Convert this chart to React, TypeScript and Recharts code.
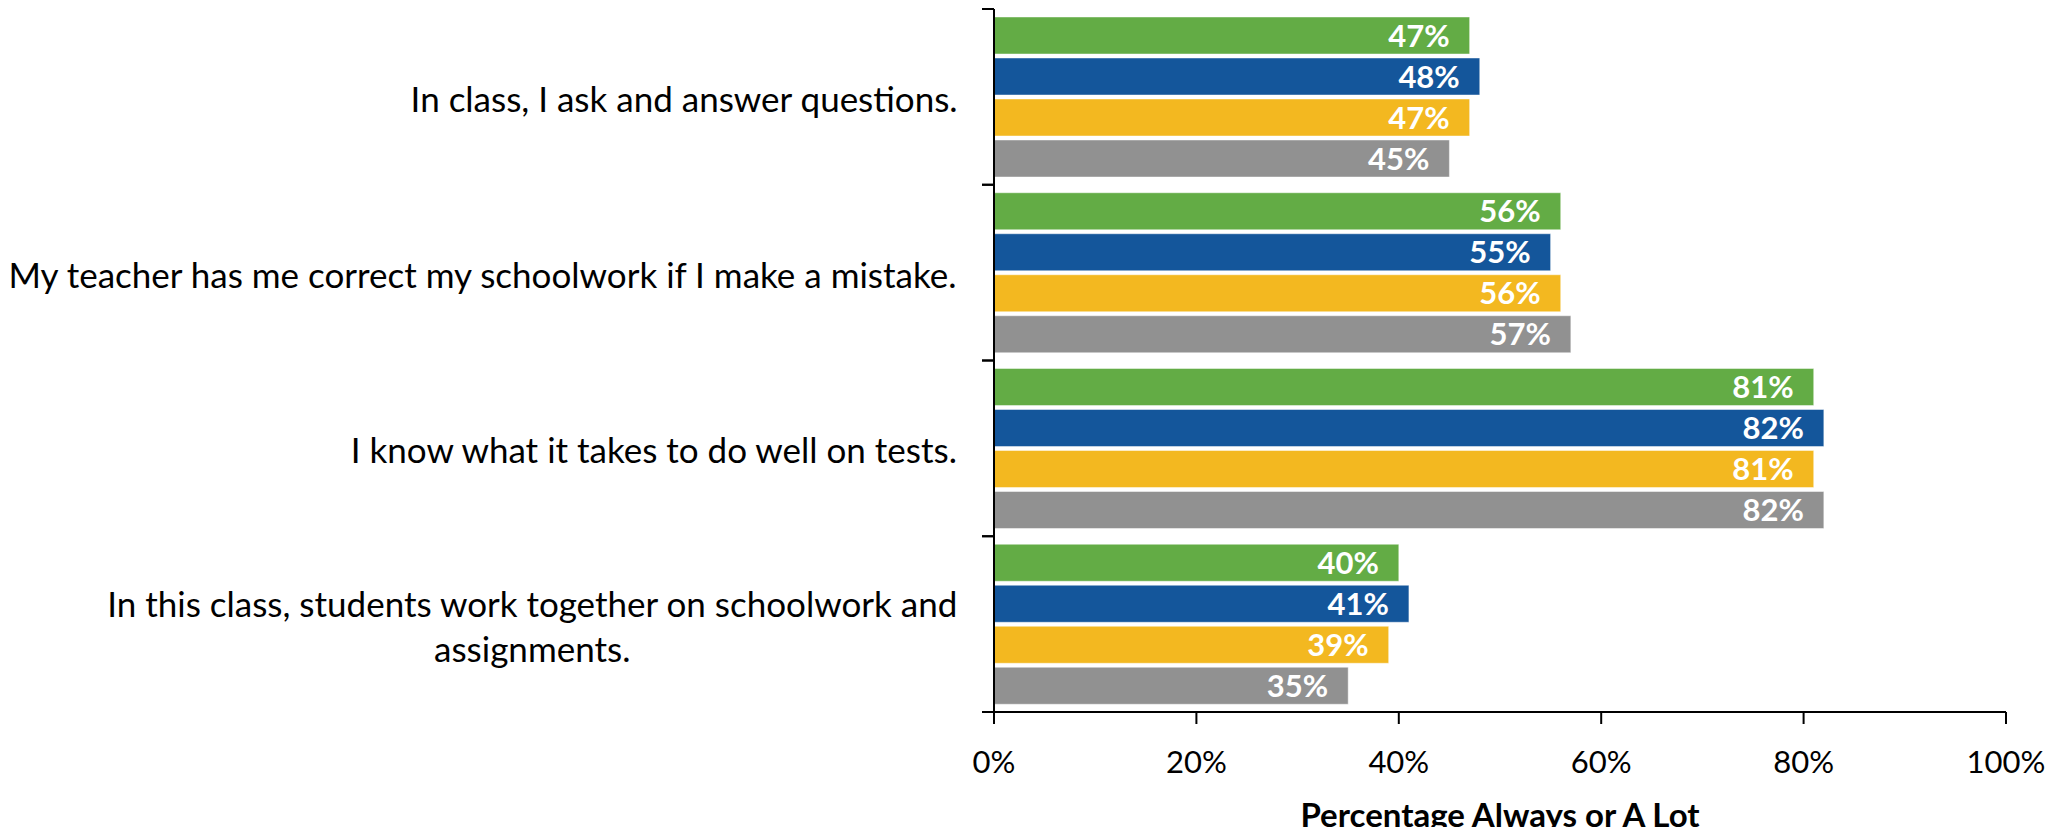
import React from "react";
import { BarChart, Bar, XAxis, YAxis, LabelList } from "recharts";

const statements = [
  "In class, I ask and answer questions.",
  "My teacher has me correct my schoolwork if I make a mistake.",
  "I know what it takes to do well on tests.",
  "In this class, students work together on schoolwork and\nassignments.",
];
const groupA = [47, 56, 81, 40];
const groupB = [48, 55, 82, 41];
const groupC = [47, 56, 81, 39];
const groupD = [45, 57, 82, 35];
const xTicks = [0, 20, 40, 60, 80, 100];
const axisTitle = "Percentage Always or A Lot";

const data = statements.map((statement, i) => ({
  statement,
  groupA: groupA[i],
  groupB: groupB[i],
  groupC: groupC[i],
  groupD: groupD[i],
}));

const W = 2050;
const H = 819;
const TOP = 1;
const X_AXIS_H = 115;
const BAND = (H - TOP - X_AXIS_H) / statements.length;
const FONT = "Lato";
const TICK_SIZE = 35;

let ctx: CanvasRenderingContext2D | null = null;
const measure = (s: string, font: string) => {
  if (!ctx) ctx = document.createElement("canvas").getContext("2d");
  if (!ctx) return s.length * 15;
  ctx.font = font;
  return ctx.measureText(s).width;
};

// category label, right-aligned block with lines centred on each other,
// plus the small ticks at the band edges
const StatementTick = (props: any) => {
  const { x, y, payload } = props;
  const lines = String(payload.value).split("\n");
  const widths = lines.map((l) => measure(l, `${TICK_SIZE}px ${FONT}`));
  const blockW = Math.max(...widths);
  const cx = x - 36 - blockW / 2;
  const lineH = 45;
  const first = y + 15 - ((lines.length - 1) * lineH) / 2;
  return (
    <g>
      <line x1={x - 12} x2={x} y1={y - BAND / 2} y2={y - BAND / 2} stroke="#000" strokeWidth={2} />
      <line x1={x - 12} x2={x} y1={y + BAND / 2} y2={y + BAND / 2} stroke="#000" strokeWidth={2} />
      {lines.map((l, i) => (
        <text
          key={i}
          x={cx}
          y={first + i * lineH}
          textAnchor="middle"
          fontFamily={FONT}
          fontSize={TICK_SIZE}
          fill="#000"
        >
          {l}
        </text>
      ))}
    </g>
  );
};

const PercentTick = (props: any) => {
  const { x, y, payload } = props;
  return (
    <text x={x} y={y + 49} textAnchor="middle" fontFamily={FONT} fontSize={31} fill="#000">
      {payload.value}%
    </text>
  );
};

const renderTitle = (props: any) => {
  const { viewBox } = props;
  return (
    <text
      x={viewBox.x + viewBox.width / 2}
      y={viewBox.y + 115}
      textAnchor="middle"
      fontFamily={FONT}
      fontSize={33}
      fontWeight="bold"
      fill="#000"
    >
      {axisTitle}
    </text>
  );
};

const renderValue = (props: any) => {
  const { x, y, width, height, value } = props;
  return (
    <text
      x={x + width - 20}
      y={y + height / 2 + 11}
      textAnchor="end"
      fontFamily={FONT}
      fontSize={31}
      fontWeight="bold"
      fill="#fff"
    >
      {value}%
    </text>
  );
};

const series = [
  { key: "groupA", color: "#63AC45" },
  { key: "groupB", color: "#14569B" },
  { key: "groupC", color: "#F3B820" },
  { key: "groupD", color: "#919191" },
];

export default function App() {
  return (
    <div>
      <style>{".recharts-surface{overflow:visible}"}</style>
      <BarChart
        width={W}
        height={H}
        data={data}
        layout="vertical"
        margin={{ top: TOP, right: 52, left: 0, bottom: 0 }}
        barCategoryGap={8}
        barGap={4}
      >
        <XAxis
          type="number"
          domain={[0, 100]}
          ticks={xTicks}
          interval={0}
          height={X_AXIS_H}
          axisLine={{ stroke: "#000", strokeWidth: 2 }}
          tickLine={{ stroke: "#000", strokeWidth: 2 }}
          tickSize={12}
          tickMargin={0}
          tick={PercentTick}
          label={renderTitle}
        />
        <YAxis
          type="category"
          dataKey="statement"
          width={986}
          axisLine={{ stroke: "#000", strokeWidth: 2 }}
          tickLine={false}
          tickSize={0}
          tickMargin={0}
          interval={0}
          tick={StatementTick}
        />
        {series.map((s) => (
          <Bar
            key={s.key}
            dataKey={s.key}
            fill={s.color}
            stroke="#ffffff"
            strokeOpacity={0.45}
            strokeWidth={1}
            isAnimationActive={false}
          >
            <LabelList dataKey={s.key} content={renderValue} />
          </Bar>
        ))}
      </BarChart>
    </div>
  );
}
